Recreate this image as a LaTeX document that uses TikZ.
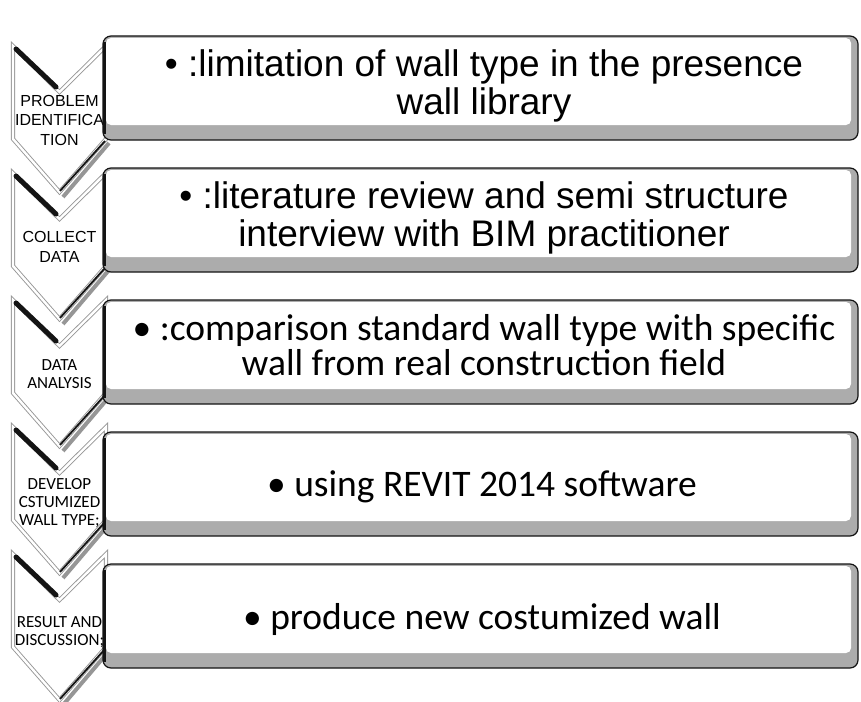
\documentclass[tikz,border=0pt]{standalone}
\usepackage{fontspec}
\usepackage{tikz}
\newfontfamily\arialf{Liberation Sans}
\newfontfamily\calf{Carlito}
\definecolor{figline}{RGB}{20,20,20}
\definecolor{figband}{RGB}{172,172,172}
\definecolor{figedge}{RGB}{150,150,150}
\tikzset{
  chv/.style ={draw=figedge, line width=0.9pt, double=white, double distance=2.4pt, fill=white},
  chd/.style ={draw=figline, line width=5pt, line cap=round},
  chs/.style ={draw=figedge, line width=4pt},
  chr/.style ={draw=figline, line width=1.8pt},
  bxf/.style ={fill=figband, rounded corners=8pt},
  bxi/.style ={fill=white, rounded corners=5pt},
  bxo/.style ={draw=figline, line width=1.2pt, rounded corners=8pt},
  bxl/.style ={draw=figline, line width=3pt},
  bta/.style ={font=\arialf\fontsize{37}{38}\selectfont, align=center, inner sep=0pt},
  btc/.style ={font=\calf\fontsize{37.5}{35}\selectfont, align=center, inner sep=0pt},
  cla/.style ={font=\arialf\fontsize{16}{19.5}\selectfont, align=center, inner sep=0pt},
  clc/.style ={font=\calf\fontsize{17}{18}\selectfont, align=center, inner sep=0pt},
}
\begin{document}
\begin{tikzpicture}[x=1pt,y=-1pt]
  \useasboundingbox (0,0) rectangle (861,701);
  \begin{scope}[shift={(0,46)}]
  \draw[chv] (13,0) -- (59.5,46) -- (106,0) -- (106,93) -- (59.5,146) -- (13,93) -- cycle;
  \draw[chd] (16,3) -- (56,41);
  \draw[chs] (109,97) -- (63,151);
  \draw[chr] (105,95) -- (60,145);
  \node[cla] (c1) at (59.5,74) {PROBLEM\\IDENTIFICA\\TION};
  \fill[bxf] (103,-10) rectangle (858,94);
  \fill[bxi] (106,-8) rectangle (851,79);
  \draw[bxo] (103,-10) rectangle (858,94);
  \draw[bxl] (104.5,-4) -- (104.5,88);
  \node[bta] (b1) at (484,40) {\textbullet\ :limitation of wall type in the presence\\wall library};
  \end{scope}
  \begin{scope}[shift={(0,173)}]
  \draw[chv] (13,0) -- (59.5,46) -- (106,0) -- (106,93) -- (59.5,146) -- (13,93) -- cycle;
  \draw[chd] (16,3) -- (56,41);
  \draw[chs] (109,97) -- (63,151);
  \draw[chr] (105,95) -- (60,145);
  \node[cla] (c2) at (59.5,74) {COLLECT\\DATA};
  \fill[bxf] (103,-5) rectangle (858,99);
  \fill[bxi] (106,-3) rectangle (851,84);
  \draw[bxo] (103,-5) rectangle (858,99);
  \draw[bxl] (104.5,1) -- (104.5,93);
  \node[bta] (b2) at (484,45) {\textbullet\ :literature review and semi structure\\interview with BIM practitioner};
  \end{scope}
  \begin{scope}[shift={(0,300)}]
  \draw[chv] (13,0) -- (59.5,46) -- (106,0) -- (106,93) -- (59.5,146) -- (13,93) -- cycle;
  \draw[chd] (16,3) -- (56,41);
  \draw[chs] (109,97) -- (63,151);
  \draw[chr] (105,95) -- (60,145);
  \node[clc] (c3) at (59.5,74) {DATA\\ANALYSIS};
  \fill[bxf] (103,0) rectangle (858,104);
  \fill[bxi] (106,2) rectangle (851,89);
  \draw[bxo] (103,0) rectangle (858,104);
  \draw[bxl] (104.5,6) -- (104.5,98);
  \node[btc] (b3) at (484,45) {\textbullet\ :comparison standard wall type with specific\\wall from real construction field};
  \end{scope}
  \begin{scope}[shift={(0,427)}]
  \draw[chv] (13,0) -- (59.5,46) -- (106,0) -- (106,93) -- (59.5,146) -- (13,93) -- cycle;
  \draw[chd] (16,3) -- (56,41);
  \draw[chs] (109,97) -- (63,151);
  \draw[chr] (105,95) -- (60,145);
  \node[clc] (c4) at (59.5,76) {DEVELOP\\CSTUMIZED\\WALL TYPE;};
  \fill[bxf] (103,5) rectangle (858,109);
  \fill[bxi] (106,7) rectangle (851,94);
  \draw[bxo] (103,5) rectangle (858,109);
  \draw[bxl] (104.5,11) -- (104.5,103);
  \node[btc] (b4) at (482,60) {\textbullet\ using REVIT 2014 software};
  \end{scope}
  \begin{scope}[shift={(0,554)}]
  \draw[chv] (13,0) -- (59.5,46) -- (106,0) -- (106,93) -- (59.5,146) -- (13,93) -- cycle;
  \draw[chd] (16,3) -- (56,41);
  \draw[chs] (109,97) -- (63,151);
  \draw[chr] (105,95) -- (60,145);
  \node[clc] (c5) at (59.5,78) {RESULT AND\\DISCUSSION;};
  \fill[bxf] (103,10) rectangle (858,114);
  \fill[bxi] (106,12) rectangle (851,99);
  \draw[bxo] (103,10) rectangle (858,114);
  \draw[bxl] (104.5,16) -- (104.5,108);
  \node[btc] (b5) at (482,65) {\textbullet\ produce new costumized wall};
  \end{scope}
\end{tikzpicture}
\end{document}
